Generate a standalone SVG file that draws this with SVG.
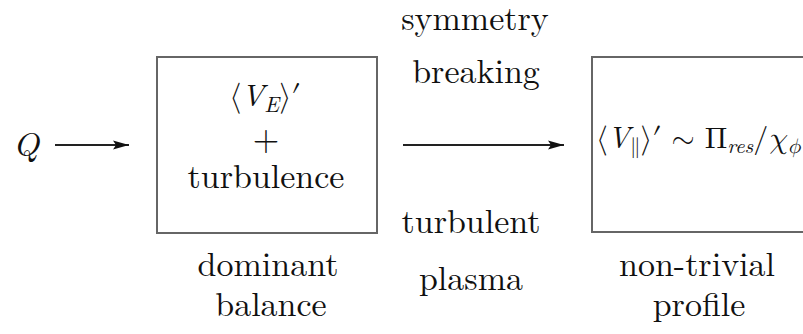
<svg xmlns="http://www.w3.org/2000/svg" width="803" height="334" viewBox="0 0 803 334">
<style>
text{fill:#111;text-anchor:middle}
.i{font-style:italic}
.box{fill:#fff;stroke:#666;stroke-width:2}
.c{stroke:#222;stroke-width:2.2;fill:none}
</style>
<defs>
<marker id="ah" viewBox="0 0 16 10" refX="16" refY="5" markerWidth="16" markerHeight="10" markerUnits="userSpaceOnUse" orient="auto">
<path d="M0,0.5 L16,5 L0,9.5 L3,5 Z" fill="#111"/>
</marker>
</defs>
<rect width="803" height="334" fill="#fff"/>
<g font-family="Latin Modern Roman, Latin Modern Math, DejaVu Serif, serif" font-size="34">
<g id="q"><text class="i" x="26" y="156">Q</text></g>
<g id="dominant">
<rect class="box" x="157" y="57" width="220" height="176"/>
<text x="265" y="106" font-size="31">⟨<tspan class="i">V</tspan><tspan class="i" font-size="22" dy="6">E</tspan><tspan dy="-6">⟩′</tspan></text>
<text x="266" y="150">+</text>
<text x="266" y="188">turbulence</text>
<text x="268" y="276">dominant</text>
<text x="271" y="316">balance</text>
</g>
<g id="profile">
<rect class="box" x="592" y="57" width="230" height="175"/>
<text x="596" y="148" text-anchor="start" style="text-anchor:start" font-size="30">⟨<tspan class="i">V</tspan><tspan font-size="21" dy="5">∥</tspan><tspan dy="-5">⟩′ ∼ Π</tspan><tspan class="i" font-size="21" dy="5">res</tspan><tspan dy="-5">/</tspan><tspan class="i">χ</tspan><tspan class="i" font-size="21" dy="5">ϕ</tspan></text>
<text x="697" y="276">non-trivial</text>
<text x="699" y="316">profile</text>
</g>
<g id="labels">
<text x="475" y="30">symmetry</text>
<text x="476" y="83">breaking</text>
<text x="471" y="233">turbulent</text>
<text x="471" y="290">plasma</text>
</g>
</g>
<g id="connectors">
<line class="c" x1="55" y1="145" x2="129" y2="145" marker-end="url(#ah)"/>
<line class="c" x1="403" y1="145" x2="564" y2="145" marker-end="url(#ah)"/>
</g>
</svg>
